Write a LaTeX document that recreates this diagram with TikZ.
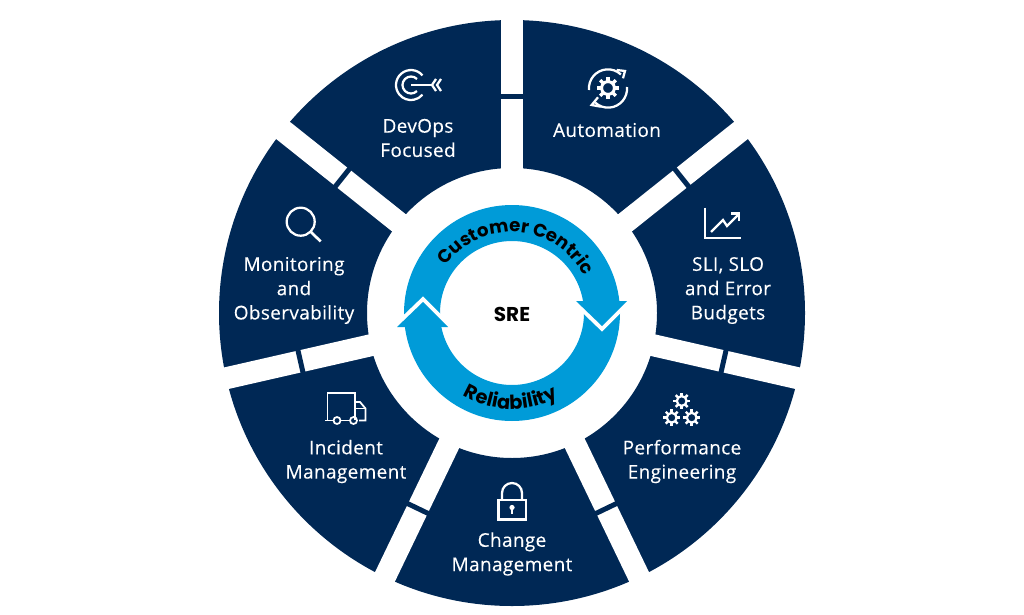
\documentclass[tikz,border=0pt]{standalone}
\usepackage{fontspec}
\setmainfont{Open Sans}
\newfontfamily\headf{Poppins}
\usetikzlibrary{decorations.text}
\definecolor{navy}{HTML}{002855}
\definecolor{skyb}{HTML}{009BD8}
\tikzset{
 lab/.style={text=white,font=\fontsize{14.2pt}{18.2pt}\selectfont\addfontfeature{LetterSpace=2,FakeBold=0.25},align=center,inner sep=0pt},
 icon/.style={draw=white,line width=1.7pt,fill=none},
 thin icon/.style={draw=white,line width=1.3pt,fill=none},
 chevron/.style={draw=white,line width=6pt,miter limit=10},
}
\newcommand{\geargl}[3]{%
 \foreach \t in {0,45,...,315}{\draw[white,line width=#3*0.22pt] (#1,#2) ++(\t:#3*0.6) -- ++(\t:#3*0.4);}
 \draw[white,line width=#3*0.2pt] (#1,#2) circle[radius=#3*0.58];}
\begin{document}
\begin{tikzpicture}[x=0.75pt,y=-0.75pt]
\useasboundingbox (0,0) rectangle (1024,614);
\begin{scope}[shift={(512,313)},y=0.75pt]
 \fill[navy,even odd rule] (0,0) circle[radius=293] (0,0) circle[radius=145];
 \foreach \a in {90,38.57,-12.86,-64.29,-115.71,-167.14,141.43}{
  \draw[white,line width=16.5pt] (\a:120) -- (\a:310);
  \fill[navy,rotate=\a] (214.5,-12) rectangle (219.5,12);
 }
 \fill[skyb,even odd rule] (0,0) circle[radius=108] (0,0) circle[radius=72];
 % right arrow head
 \draw[chevron] (64,12) -- (90,-13) -- (115,12);
 \fill[skyb] (64,12) -- (90,-13) -- (115,12) -- cycle;
 % left arrow head
 \draw[chevron] (-115,-14) -- (-89,11) -- (-64,-14);
 \fill[skyb] (-115,-14) -- (-89,11) -- (-64,-14) -- cycle;
 \path[decorate,decoration={text along path,text align=center,
   text={|\headf\bfseries\fontsize{13.6pt}{15pt}\selectfont|Customer Centric}}]
   (165:81) arc[start angle=165,end angle=7,radius=81];
 \path[decorate,decoration={text along path,text align=center,
   text={|\headf\bfseries\fontsize{14.5pt}{16pt}\selectfont|Reliability}}]
   (204:96) arc[start angle=204,end angle=334,radius=96];
\end{scope}
\node[font=\headf\bfseries\fontsize{15pt}{16pt}\selectfont,inner sep=0pt] (sre) at (512,314) {SRE};
\node[lab] (devops) at (418,138) {DevOps\\Focused};
\node[lab] (auto) at (607,130) {Automation};
\node[lab] (sli) at (728,290.5) {SLI, SLO\\and Error\\Budgets};
\node[lab] (mon) at (294,290.5) {Monitoring\\and\\Observability};
\node[lab] (inc) at (346,461.5) {Incident\\Management};
\node[lab] (chg) at (512,554) {Change\\Management};
\node[lab] (perf) at (682,461.5) {Performance\\Engineering};
% target icon
\draw[icon] (422.5,75.4) arc[start angle=-40,end angle=-320,radius=15];
\draw[icon] (417,79) arc[start angle=-45,end angle=-315,radius=8.5];
\draw[icon] (411,85) -- (432,85);
\draw[icon] (436,79) -- (432,85) -- (436,91);
\draw[icon] (441,79) -- (437,85) -- (441,91);
% automation icon
\draw[icon] (589,90) arc[start angle=175,end angle=313,radius=19];
\draw[icon] (616.7,70) -- (625,71) -- (623,78.3);
\draw[icon] (627,87) arc[start angle=-5,end angle=133,radius=19];
\draw[icon] (598,97.3) -- (591.7,105) -- (600.7,106.7);
\geargl{608}{88}{11}
% magnifier
\draw[icon] (300.7,221.7) circle[radius=14];
\draw[icon,line width=2pt] (311,232) -- (320.7,241.5);
% chart
\draw[icon] (705,207.5) -- (705,238) -- (741,238);
\draw[icon] (711,232) -- (723,220) -- (727,226) -- (738,215);
\draw[icon] (731,213.5) -- (739,213.5) -- (739,221);
% truck
\draw[thin icon] (327.5,420) -- (327.5,393) -- (355,393) -- (355,420);
\draw[thin icon] (355,402) -- (360,402) -- (365.5,408.5) -- (365.5,420.5) -- (359,420.5);
\draw[thin icon] (355,408.5) -- (365.5,408.5);
\draw[thin icon] (325,420.5) -- (333,420.5) (341,420.5) -- (349.5,420.5);
\draw[thin icon] (337,420.5) circle[radius=3.5];
\draw[thin icon] (353.5,420.5) circle[radius=3.5];
% lock
\draw[icon] (498.5,500) rectangle (526,519.5);
\draw[icon] (502,500) -- (502,493) arc[start angle=180,end angle=360,radius=10] -- (522,500);
\fill[white] (512,507.5) circle[radius=2.6];
\fill[white] (510.8,508) rectangle (513.2,513.5);
% gears
\geargl{681.7}{401}{8.4}
\geargl{671.7}{417.7}{8.4}
\geargl{691.7}{417.7}{8.4}
\end{tikzpicture}
\end{document}
